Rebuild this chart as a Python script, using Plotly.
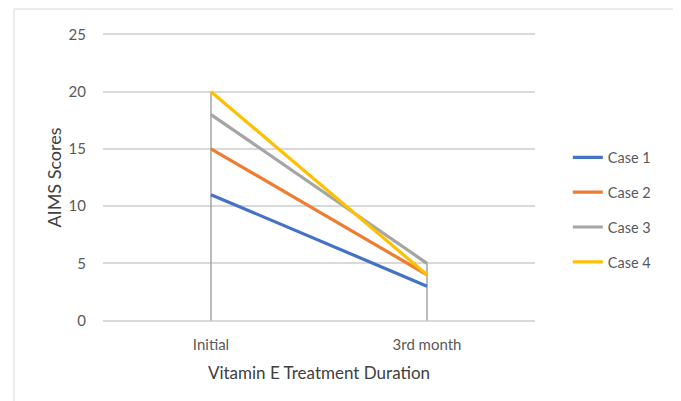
import plotly.graph_objects as go

categories = ["Initial", "3rd month"]
case_names = ["Case 1", "Case 2", "Case 3", "Case 4"]
case1 = [11, 3]
case2 = [15, 4]
case3 = [18, 5]
case4 = [20, 4]
series = [case1, case2, case3, case4]
colors = ["#4472C4", "#ED7D31", "#A5A5A5", "#FFC000"]

fig = go.Figure()

# drop lines from 0 to the highest value at each category
maxes = [max(s[i] for s in series) for i in range(len(categories))]
dx, dy = [], []
for c, m in zip(categories, maxes):
    dx += [c, c, None]
    dy += [0, m, None]
fig.add_trace(go.Scatter(x=dx, y=dy, mode="lines", line=dict(color="#A5A5A5", width=1.5),
                         showlegend=False, hoverinfo="skip"))

for name, vals, col in zip(case_names, series, colors):
    fig.add_trace(go.Scatter(x=categories, y=vals, mode="lines", name=name,
                             legendgroup=name,
                             line=dict(color=col, width=3.2)))

font_family = "Lato, 'Open Sans', sans-serif"
fig.update_layout(
    width=681, height=401,
    margin=dict(l=95, r=154, t=25, b=87),
    paper_bgcolor="white", plot_bgcolor="white",
    font=dict(family=font_family, color="#595959", size=15),
    xaxis=dict(type="category", range=[-0.5, 1.5], showgrid=False, zeroline=False,
               showline=False, ticks="", ticklabelstandoff=12,
               tickfont=dict(size=15, color="#595959"),
               title=dict(text="Vitamin E Treatment Duration", font=dict(size=17, color="#404040"),
                          standoff=15)),
    yaxis=dict(range=[-0.13, 25.13], tickvals=[0, 5, 10, 15, 20, 25], showgrid=True,
               gridcolor="#D9D9D9", gridwidth=1.5,
               zeroline=True, zerolinecolor="#D9D9D9", zerolinewidth=1.5,
               showline=False, ticks="", ticklabelstandoff=16,
               tickfont=dict(size=15, color="#595959"),
               title=dict(text="AIMS Scores", font=dict(size=18, color="#404040"), standoff=2)),
    legend=dict(x=1.076, xanchor="left", y=0.625, yanchor="top", tracegroupgap=13,
                font=dict(size=14.5, color="#595959"), itemwidth=30, bgcolor="rgba(0,0,0,0)"),
    shapes=[dict(type="rect", xref="paper", yref="paper", x0=-0.206, x1=1.331, y0=-0.4, y1=1.083,
                 line=dict(color="#D9D9D9", width=1), layer="below")],
)

fig.write_html("out.html")
